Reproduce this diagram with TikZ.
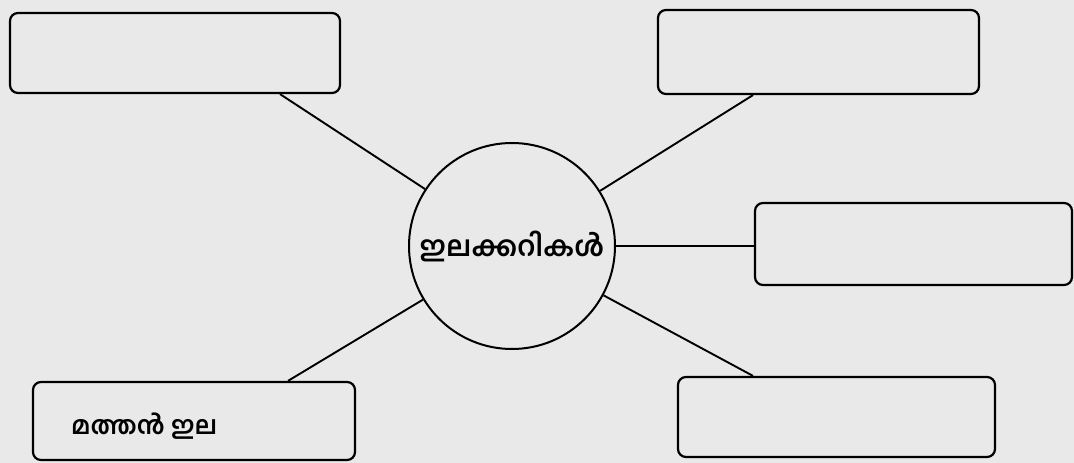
\documentclass[tikz,border=0pt]{standalone}
\usepackage{fontspec}
\newfontfamily\mal[Script=Malayalam]{Hind Kochi}
\definecolor{bg}{RGB}{233,233,233}
\begin{document}
\begin{tikzpicture}[x=1pt,y=-1pt,
  box/.style={draw, line width=2.2pt, rounded corners=8pt, minimum width=#1, inner sep=0pt},
  link/.style={line width=1.9pt},
  hub/.style={circle, draw, line width=2pt, minimum size=206pt, inner sep=0pt,
    font=\mal\bfseries\fontsize{28}{33}\selectfont}]
\fill[bg] (0,0) rectangle (1074,463);
\useasboundingbox (0,0) rectangle (1074,463);
\node[box=330pt, minimum height=80pt] (b1) at (175,53) {};
\node[box=321pt, minimum height=84pt] (b2) at (818.5,52) {};
\node[box=317pt, minimum height=82pt] (b3) at (913.5,244) {};
\node[box=317pt, minimum height=80pt] (b4) at (836.5,417) {};
\node[box=322pt, minimum height=78pt] (b5) at (194,421) {};
\node[hub] (c) at (512,246) {ഇലക്കറികൾ};
\node[anchor=west, inner sep=0pt, font=\mal\bfseries\fontsize{25}{30}\selectfont] (t5) at ([xshift=39pt,yshift=-5pt]b5.west) {മത്തൻ ഇല};
\draw[link] (c) -- ([xshift=105pt]b1.south);
\draw[link] (c) -- ([xshift=-65.5pt]b2.south);
\draw[link] (c.east) -- (c.east -| b3.west);
\draw[link] (c) -- ([xshift=-83.5pt]b4.north);
\draw[link] (c) -- ([xshift=94pt]b5.north);
\end{tikzpicture}
\end{document}
